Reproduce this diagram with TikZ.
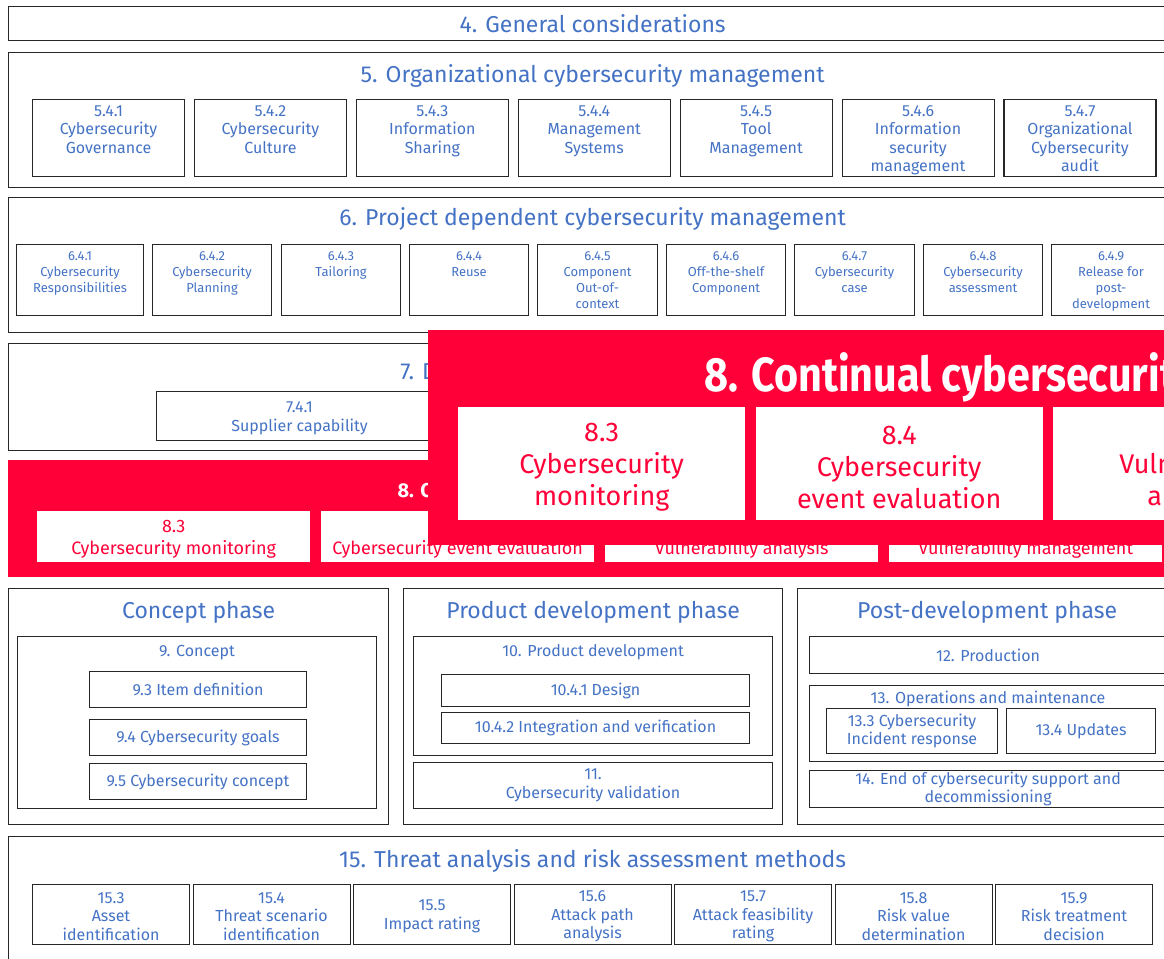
\documentclass[tikz,border=0pt]{standalone}
\usepackage{fontspec}
\setmainfont{Fira Sans}
\newfontfamily\narrowfont[FakeStretch=0.86]{Fira Sans}
\usetikzlibrary{positioning}
\definecolor{isoblue}{RGB}{68,114,196}
\definecolor{isored}{RGB}{255,0,56}

\begin{document}
\begin{tikzpicture}[x=1pt, y=1pt,
    frame/.style={draw=black!85, line width=1.3pt, inner sep=0pt, anchor=north west},
    part/.style={frame, line width=1.1pt},
    head/.style={text=isoblue, font=\fontsize{23}{27}\selectfont, inner sep=2pt},
    subhead/.style={text=isoblue, font=\fontsize{16}{19}\selectfont, inner sep=2pt},
    txt/.style={text=isoblue, font=\fontsize{16}{18.5}\selectfont, align=center},
    smalltxt/.style={text=isoblue, font=\fontsize{13}{16}\selectfont, align=center},
    toptxt/.style={txt, anchor=north, inner sep=2pt, yshift=-4pt},
    smalltop/.style={smalltxt, anchor=north, inner sep=2pt, yshift=-5pt},
    midtxt/.style={txt, yshift=-2pt},
    redbox/.style={fill=isored, inner sep=0pt, anchor=north west},
    whitebox/.style={fill=white, inner sep=0pt, anchor=north west},
    redtxt/.style={text=isored, font=\fontsize{18}{22}\selectfont, align=center, yshift=-3pt},
    bigtxt/.style={text=isored, font=\fontsize{27}{32}\selectfont, align=center, yshift=-4pt}]
    \useasboundingbox (0,0) rectangle (1164,-958);
    \clip (0,0) rectangle (1164,-958);

    % 4
    \node[frame, minimum width=1168, minimum height=34] (sec4) at (8,-6) {};
    \node[head] (sec4title) at (sec4.center) {4. General considerations};

    % 5
    \node[frame, minimum width=1168, minimum height=135] (sec5) at (8,-52) {};
    \node[head, below=10pt of sec5.north] (sec5title) {5. Organizational cybersecurity management};
    \foreach \t [count=\i from 0] in {%
        {5.4.1\\Cybersecurity\\Governance}, {5.4.2\\Cybersecurity\\Culture},
        {5.4.3\\Information\\Sharing}, {5.4.4\\Management\\Systems},
        {5.4.5\\Tool\\Management}, {5.4.6\\Information\\security\\management},
        {5.4.7\\Organizational\\Cybersecurity\\audit}}
        \node[part, minimum width=152, minimum height=77,
              label={[toptxt]north:\t}] (org\i) at (32+161.9*\i,-99) {};

    % 6
    \node[frame, minimum width=1168, minimum height=135] (sec6) at (8,-197) {};
    \node[head, below=8pt of sec6.north] (sec6title) {6. Project dependent cybersecurity management};
    \foreach \x/\w/\t [count=\i] in {%
        16/127/{6.4.1\\Cybersecurity\\Responsibilities}, 152/119/{6.4.2\\Cybersecurity\\Planning},
        281/119/{6.4.3\\Tailoring}, 409/119/{6.4.4\\Reuse},
        537/120/{6.4.5\\Component\\Out-of-\\context}, 666/119/{6.4.6\\Off-the-shelf\\Component},
        794/120/{6.4.7\\Cybersecurity\\case}, 923/119/{6.4.8\\Cybersecurity\\assessment},
        1051/119/{6.4.9\\Release for\\post-\\development}}
        \node[part, minimum width=\w, minimum height=71,
              label={[smalltop]north:\t}] (prj\i) at (\x,-244) {};

    % 7
    \node[frame, minimum width=1168, minimum height=107] (sec7) at (8,-343) {};
    \node[head, below=16pt of sec7.north] (sec7title) {7. Distributed cybersecurity activities};
    \node[part, minimum width=286, minimum height=49,
          label={[midtxt]center:7.4.1\\Supplier capability}] (sup741) at (156,-391) {};

    % 8
    \node[redbox, minimum width=1168, minimum height=117] (sec8) at (8,-460) {};
    \node[anchor=west, text=white, font=\bfseries\fontsize{20}{24}\selectfont] (sec8title) at (394,-492)
        {8. Continual cybersecurity activities};
    \foreach \t [count=\i from 0] in {%
        {8.3\\Cybersecurity monitoring}, {8.4\\Cybersecurity event evaluation},
        {8.5\\Vulnerability analysis}, {8.6\\Vulnerability management}}
        \node[whitebox, minimum width=273, minimum height=51,
              label={[redtxt]center:\t}] (cont\i) at (37+284*\i,-511) {};

    % phases
    \node[frame, minimum width=380, minimum height=236] (concept) at (8,-588) {};
    \node[head, below=11pt of concept.north] {Concept phase};
    \node[part, minimum width=359, minimum height=172] (cpt9) at (17,-636) {};
    \node[subhead, below=7pt of cpt9.north] {9. Concept};
    \node[part, minimum width=217, minimum height=36, txt] (cpt93) at (89,-671) {9.3 Item definition};
    \node[part, minimum width=217, minimum height=36, txt] (cpt94) at (89,-719) {9.4 Cybersecurity goals};
    \node[part, minimum width=217, minimum height=36, txt] (cpt95) at (89,-763) {9.5 Cybersecurity concept};

    \node[frame, minimum width=379, minimum height=236] (devel) at (403,-588) {};
    \node[head, below=11pt of devel.north] {Product development phase};
    \node[part, minimum width=359, minimum height=119] (dev10) at (413,-636) {};
    \node[subhead, below=6pt of dev10.north] {10. Product development};
    \node[part, minimum width=308, minimum height=32, txt] (dev1041) at (441,-674) {10.4.1 Design};
    \node[part, minimum width=308, minimum height=31, txt] (dev1042) at (441,-712) {10.4.2 Integration and verification};
    \node[part, minimum width=359, minimum height=46, txt] (dev11) at (413,-762) {11.\\Cybersecurity validation};

    \node[frame, minimum width=379, minimum height=236] (postdev) at (797,-588) {};
    \node[head, below=11pt of postdev.north] {Post-development phase};
    \node[part, minimum width=357, minimum height=37, txt] (post12) at (809,-636) {12. Production};
    \node[part, minimum width=357, minimum height=76] (post13) at (809,-685) {};
    \node[subhead, below=4pt of post13.north] {13. Operations and maintenance};
    \node[part, minimum width=171, minimum height=45, txt] (post133) at (826,-708) {13.3 Cybersecurity\\Incident response};
    \node[part, minimum width=149, minimum height=45, txt] (post134) at (1006,-708) {13.4 Updates};
    \node[part, minimum width=357, minimum height=37, txt] (post14) at (809,-770)
        {14. End of cybersecurity support and\\decommissioning};

    % 15
    \node[frame, minimum width=1168, minimum height=140] (sec15) at (8,-836) {};
    \node[head, below=11pt of sec15.north] {15. Threat analysis and risk assessment methods};
    \foreach \t [count=\i from 0] in {%
        {15.3\\Asset\\identification}, {15.4\\Threat scenario\\identification},
        {15.5\\Impact rating}, {15.6\\Attack path\\analysis},
        {15.7\\Attack feasibility\\rating}, {15.8\\Risk value\\determination},
        {15.9\\Risk treatment\\decision}}
        \node[part, minimum width=157, minimum height=60,
              label={[midtxt]center:\t}] (tara\i) at (32+160.5*\i,-884) {};

    % enlarged clause 8
    \node[redbox, minimum width=760, minimum height=215] (zoom8) at (428,-330) {};
    \node[anchor=west, text=white, font=\narrowfont\bfseries\fontsize{48}{54}\selectfont]
        (zoomtitle) at (701,-377) {8. Continual cybersecurity activities};
    \foreach \t [count=\i from 0] in {%
        {8.3\\Cybersecurity\\monitoring}, {8.4\\Cybersecurity\\event evaluation},
        {8.5\\Vulnerability\\analysis}}
        \node[whitebox, minimum width=287, minimum height=113,
              label={[bigtxt]center:\t}] (zoombox\i) at (458+297.5*\i,-407) {};
\end{tikzpicture}
\end{document}
